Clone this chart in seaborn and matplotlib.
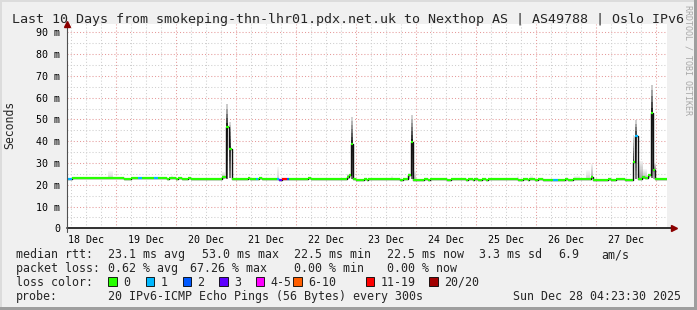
import numpy as np
import pandas as pd
import matplotlib
matplotlib.use("Agg")
import matplotlib.pyplot as plt
import matplotlib.dates as mdates
from matplotlib.patches import Rectangle
import seaborn as sns

# ---------------------------------------------------------------- data
TITLE = "Last 10 Days from smokeping-thn-lhr01.pdx.net.uk to Nexthop AS | AS49788 | Oslo IPv6"
start_time = "2025-12-18 04:23:30"
end_time = "2025-12-28 04:23:30"

# median rtt as steps: hours since start, median in ms, pings lost of 20
step_hours = [0.0, 2.4, 22.8, 26.0, 28.4, 30.0, 34.8, 36.4, 40.0, 40.8,
              44.0, 44.8, 46.0, 48.8, 50.0, 62.4, 63.6, 64.8, 66.0, 72.4,
              73.6, 75.6, 76.4, 76.8, 78.0, 84.0, 85.2, 86.2, 88.0, 88.8,
              96.8, 98.0, 112.0, 112.8, 113.6, 114.8, 116.0, 118.8, 120.0, 120.8,
              133.6, 134.8, 136.4, 137.6, 138.8, 142.8, 144.4, 145.6, 152.4, 153.6,
              159.6, 160.4, 162.4, 163.2, 164.8, 166.0, 167.6, 168.4, 180.4, 182.8,
              184.4, 185.0, 187.6, 188.8, 190.4, 194.8, 196.4, 199.6, 200.8, 202.4,
              209.6, 210.8, 216.8, 218.0, 219.6, 223.6, 226.4, 227.2, 228.4, 230.4,
              231.2, 232.4, 233.6, 234.8, 235.6, 237.6]
median_ms = [22.6, 23.0, 22.5, 23.0, 23.0, 23.0, 23.0, 23.0, 22.5, 23.1,
             22.5, 23.0, 22.5, 23.0, 22.5, 23.6, 46.5, 36.6, 22.5, 23.0,
             22.5, 22.5, 22.5, 23.0, 22.5, 22.5, 22.3, 22.5, 22.5, 22.5,
             23.0, 22.5, 23.5, 24.3, 38.5, 22.8, 22.3, 22.8, 22.3, 22.7,
             22.3, 22.7, 24.3, 39.6, 22.3, 22.7, 22.3, 22.7, 22.3, 22.7,
             22.3, 22.7, 22.3, 22.7, 22.3, 22.7, 22.3, 22.7, 22.3, 22.7,
             22.3, 22.7, 22.3, 22.7, 22.3, 22.3, 22.3, 22.7, 22.3, 22.7,
             23.5, 22.3, 22.7, 22.3, 22.7, 22.3, 30.6, 42.4, 22.8, 23.7,
             22.9, 24.3, 53.0, 26.8, 22.8, 22.5]
lost_pings = [1, 0, 0, 0, 1, 0, 1, 0, 0, 0,
              0, 0, 0, 0, 0, 0, 0, 0, 0, 0,
              0, 1, 0, 0, 0, 1, 3, 12, 2, 0,
              0, 0, 0, 0, 0, 0, 0, 0, 0, 0,
              0, 0, 0, 0, 0, 0, 0, 0, 0, 0,
              0, 0, 0, 0, 0, 0, 0, 0, 0, 0,
              0, 0, 0, 0, 0, 1, 0, 0, 0, 0,
              0, 0, 0, 0, 0, 0, 0, 1, 0, 0,
              0, 0, 0, 0, 0, 0]

# smoke (spread of the 20 pings): hours since start, low/high ms, density
smoke_start_h = [16.7, 41.6, 62.4, 63.6, 64.8, 84.0, 112.0, 113.6, 129.6, 136.4,
                 137.6, 138.8, 180.0, 185.2, 202.8, 207.6, 209.6, 226.4, 227.2, 228.4,
                 230.8, 232.4, 233.6, 234.8]
smoke_end_h = [18.7, 42.8, 63.6, 64.8, 66.0, 85.2, 113.6, 114.8, 130.8, 137.6,
               138.8, 140.0, 181.2, 186.8, 205.6, 209.6, 210.8, 227.2, 228.4, 230.8,
               232.4, 233.6, 234.8, 236.0]
smoke_low_ms = [23.0, 23.0, 22.5, 22.5, 23.0, 22.5, 22.5, 22.5, 22.7, 22.7,
                22.5, 22.5, 22.5, 22.5, 22.5, 22.5, 22.5, 23.5, 22.8, 22.8,
                22.8, 23.0, 23.0, 22.8]
smoke_high_ms = [26.3, 24.5, 26.0, 57.0, 49.0, 28.3, 25.0, 51.0, 24.2, 25.5,
                 52.0, 26.5, 24.2, 24.3, 24.2, 26.7, 29.5, 42.8, 49.7, 31.0,
                 27.0, 25.0, 66.0, 30.0]
smoke_density = [0.2, 0.15, 0.25, 1.0, 0.9, 0.2, 0.3, 1.0, 0.15, 0.3,
                 1.0, 0.3, 0.15, 0.15, 0.15, 0.2, 0.35, 0.9, 0.9, 0.4,
                 0.3, 0.3, 1.0, 0.5]

y_ticks_ms = [0, 10, 20, 30, 40, 50, 60, 70, 80, 90]
day_labels = ["18 Dec", "19 Dec", "20 Dec", "21 Dec", "22 Dec",
              "23 Dec", "24 Dec", "25 Dec", "26 Dec", "27 Dec"]

loss_labels = ["0", "1", "2", "3", "4-5", "6-10", "11-19", "20/20"]
loss_upper = [0, 1, 2, 3, 5, 10, 19, 20]
loss_colors = ["#26ff00", "#00b8ff", "#0059ff", "#5e00ff",
               "#ff00ff", "#ff5e00", "#ff0000", "#a10000"]

rtt_items = ["23.1 ms avg", "53.0 ms max", "22.5 ms min", "22.5 ms now", "3.3 ms sd", "6.9", "am/s"]
loss_items = ["0.62 % avg", "67.26 % max", "0.00 % min", "0.00 % now"]
probe_text = "20 IPv6-ICMP Echo Pings (56 Bytes) every 300s"
stamp_text = "Sun Dec 28 04:23:30 2025"

# ---------------------------------------------------------------- style
W, H = 697, 310
sns.set_style("white")
plt.rcParams["font.family"] = ["DejaVu Sans Mono"]
fig = plt.figure(figsize=(W / 100, H / 100), dpi=100, facecolor="#f0f0f0")

def fx(x):
    return x / W

def fy(y):
    return 1 - y / H

ax_left, ax_right, ax_bottom, ax_top = 66.5, 666.5, 228.3, 24.0
ax = fig.add_axes([fx(ax_left), fy(ax_bottom), (ax_right - ax_left) / W, (ax_bottom - ax_top) / H])
ax.set_facecolor("white")

t0 = mdates.date2num(pd.Timestamp(start_time))
t_end = mdates.date2num(pd.Timestamp(end_time))
hour = 1 / 24.0
ymax = (ax_bottom - ax_top) / 2.178
ax.set_xlim(t0, t_end)
ax.set_ylim(0, ymax)

# grid
days = pd.date_range("2025-12-19", "2025-12-28", freq="D")
six_h = pd.date_range("2025-12-18 06:00", "2025-12-28 00:00", freq="6h")
for t in six_h:
    if t.hour != 0:
        ax.axvline(mdates.date2num(t), color="#cfcfcf", lw=0.75, ls=(0, (1, 2)), zorder=0.5)
for v in range(5, 95, 10):
    ax.axhline(v, color="#cfcfcf", lw=0.75, ls=(0, (1, 2)), zorder=0.5)
for t in days:
    ax.axvline(mdates.date2num(t), color="#e59a9a", lw=0.75, ls=(0, (1, 2)), zorder=0.6)
for v in y_ticks_ms[1:]:
    ax.axhline(v, color="#e59a9a", lw=0.75, ls=(0, (1, 2)), zorder=0.6)

# smoke
sh = np.array(step_hours)
med = np.array(median_ms)
for s0, s1, lo, hi, dens in zip(smoke_start_h, smoke_end_h, smoke_low_ms, smoke_high_ms, smoke_density):
    idx = np.searchsorted(sh, (s0 + s1) / 2, side="right") - 1
    m = med[idx]
    n = 16
    edges = np.linspace(lo, hi, n + 1)
    mids = (edges[:-1] + edges[1:]) / 2
    cols = []
    for v in mids:
        if v >= m:
            d = (v - m) / max(hi - m, 1e-6)
        else:
            d = 0.45 * (m - v) / max(m - lo, 1e-6)
        g = 1 - dens * (0.12 + 0.8 * (1 - d))
        cols.append((g, g, g))
    ax.bar(np.full(n, t0 + s0 * hour), np.diff(edges), width=(s1 - s0) * hour,
           bottom=edges[:-1], align="edge", color=cols, linewidth=0, zorder=2)

# median line (black steps) + loss coloured segments
df = pd.DataFrame({"t": t0 + np.array(step_hours + [240.0]) * hour,
                   "ms": median_ms + [median_ms[-1]]})
sns.lineplot(data=df, x="t", y="ms", ax=ax, color="#111111", lw=1.0,
             drawstyle="steps-post", zorder=3, estimator=None, sort=False)

def loss_color(n):
    for up, c in zip(loss_upper, loss_colors):
        if n <= up:
            return c
    return loss_colors[-1]

seg_start = t0 + np.array(step_hours) * hour
seg_end = np.append(seg_start[1:], t0 + 240.0 * hour)
ax.hlines(median_ms, seg_start, seg_end, colors=[loss_color(n) for n in lost_pings],
          lw=1.6, zorder=4)

# axes / ticks
for s in ax.spines.values():
    s.set_visible(False)
noons = [mdates.date2num(pd.Timestamp("2025-12-18 12:00") + pd.Timedelta(days=i)) for i in range(len(day_labels))]
ax.set_xticks(noons)
ax.set_xticklabels(day_labels)
ax.set_yticks(y_ticks_ms)
ax.set_yticklabels([f"{v} m" if v else "0" for v in y_ticks_ms])
ax.tick_params(axis="both", length=0, labelsize=7.2, colors="black")
ax.tick_params(axis="x", pad=4.5)
ax.tick_params(axis="y", pad=4.5)
ax.set_xlabel("")
ax.set_ylabel("")
ax.grid(False)

# axis lines with arrows
ax.plot([0, 1.012], [0, 0], transform=ax.transAxes, color="#202020", lw=1.3, clip_on=False, zorder=5)
ax.plot([1.012], [0], transform=ax.transAxes, marker=">", ms=4.5, color="#8b0000", clip_on=False, zorder=6)
ax.plot([0, 0], [-0.02, 1.0], transform=ax.transAxes, color="#505050", lw=0.8, clip_on=False, zorder=5)
ax.plot([0], [1.0], transform=ax.transAxes, marker="^", ms=4.5, color="#8b0000", clip_on=False, zorder=6)

# texts
fig.text(fx(12), fy(19), TITLE, fontsize=9.6, va="center", ha="left")
fig.text(fx(10), fy(125), "Seconds", rotation=90, fontsize=8.3, va="center", ha="center")
fig.text(fx(688), fy(60), "RRDTOOL / TOBI OETIKER", rotation=270, fontsize=6, color="#a8a8a8",
         va="center", ha="center")

fs = 8.35
rows_y = [254.5, 268.7, 282.2, 296.7]
fig.text(fx(16), fy(rows_y[0]), "median rtt:", fontsize=fs, va="center")
for xx, s in zip([107.5, 201.5, 293.5, 386.5, 479, 558, 601], rtt_items):
    fig.text(fx(xx), fy(rows_y[0]), s, fontsize=fs, va="center")
fig.text(fx(16), fy(rows_y[1]), "packet loss:", fontsize=fs, va="center")
for xx, s in zip([107.5, 190, 293.5, 386.5], loss_items):
    fig.text(fx(xx), fy(rows_y[1]), s, fontsize=fs, va="center")
fig.text(fx(16), fy(rows_y[2]), "loss color:", fontsize=fs, va="center")
box_x = [108.3, 145.7, 182.7, 219.3, 256.0, 293.3, 365.7, 429.3]
for bx, lab, col in zip(box_x, loss_labels, loss_colors):
    fig.add_artist(Rectangle((fx(bx), fy(285.7)), 8.4 / W, 8.4 / H, transform=fig.transFigure,
                             facecolor=col, edgecolor="black", lw=0.6))
    fig.text(fx(bx + 14.5), fy(rows_y[2]), lab, fontsize=fs, va="center")
fig.text(fx(16), fy(rows_y[3]), "probe:", fontsize=fs, va="center")
fig.text(fx(107.5), fy(rows_y[3]), probe_text, fontsize=fs, va="center")
fig.text(fx(681), fy(rows_y[3]), stamp_text, fontsize=fs, va="center", ha="right")

# frame shading
fig.add_artist(Rectangle((0, fy(2)), 1, 2 / H, transform=fig.transFigure, facecolor="#dcdcdc", lw=0))
fig.add_artist(Rectangle((0, 0), 2 / W, 1, transform=fig.transFigure, facecolor="#dcdcdc", lw=0))
fig.add_artist(Rectangle((fx(694), 0), 3 / W, 1, transform=fig.transFigure, facecolor="#9e9e9e", lw=0))
fig.add_artist(Rectangle((0, 0), 1, 3 / H, transform=fig.transFigure, facecolor="#9e9e9e", lw=0))

fig.savefig("out.png", dpi=100, facecolor=fig.get_facecolor())
